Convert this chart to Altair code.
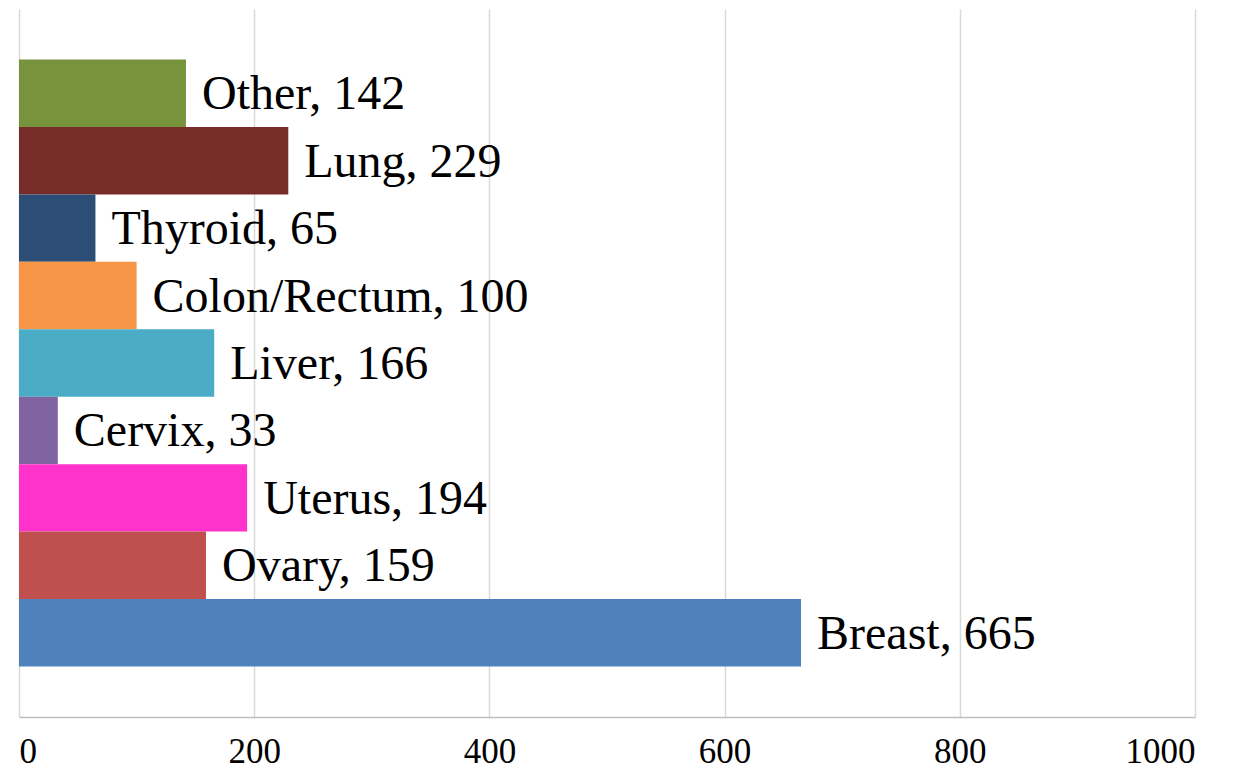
import altair as alt
import pandas as pd

categories = ["Other", "Lung", "Thyroid", "Colon/Rectum", "Liver", "Cervix", "Uterus", "Ovary", "Breast"]
values = [142, 229, 65, 100, 166, 33, 194, 159, 665]
colors = ["#77933C", "#772C2A", "#2C4D75", "#F79646", "#4BACC6", "#8064A2", "#FF33CC", "#C0504D", "#4F81BD"]
ticks = [0, 200, 400, 600, 800, 1000]

df = pd.DataFrame({"cat": categories, "val": values})
df["label"] = [f"{c}, {v}" for c, v in zip(categories, values)]

FONT = "Liberation Serif"

y_enc = alt.Y("cat:N", sort=categories, axis=None,
              scale=alt.Scale(paddingInner=0, paddingOuter=0.75))
x_scale = alt.Scale(domain=[0, 1000], nice=False)

bars = alt.Chart(df).mark_bar().encode(
    x=alt.X("val:Q", scale=x_scale,
            axis=alt.Axis(values=ticks, format="d", title=None, ticks=False,
                          grid=True, gridColor="#D9D9D9", gridWidth=1.5,
                          domainColor="#BFBFBF", domainWidth=1.5,
                          labelFont=FONT, labelFontSize=35, labelColor="#000000",
                          labelPadding=17, labelBaseline="top")),
    y=y_enc,
    color=alt.Color("cat:N", scale=alt.Scale(domain=categories, range=colors), legend=None),
)

text = alt.Chart(df).mark_text(align="left", baseline="middle", dx=16, dy=2, font=FONT,
                               fontSize=48, color="#000000").encode(
    x=alt.X("val:Q", scale=x_scale),
    y=y_enc,
    text="label:N",
)

chart = (bars + text).properties(
    width=1176, height=708,
    autosize=alt.AutoSizeParams(type="none"),
    padding={"left": 11, "top": 1, "right": 36, "bottom": 52},
).configure_view(stroke=None)

chart.save("out.html", embed_options={"renderer": "svg", "actions": False})
